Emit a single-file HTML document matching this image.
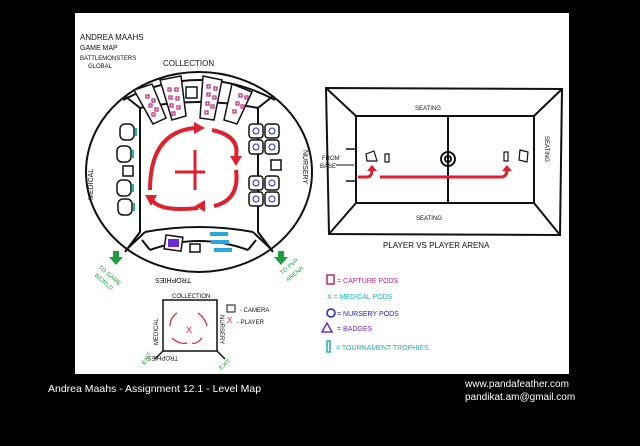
<!DOCTYPE html>
<html><head><meta charset="utf-8"><style>
html,body{margin:0;padding:0;background:#000;width:640px;height:446px;overflow:hidden}
svg{display:block}
text{font-family:"Liberation Sans",sans-serif}
</style></head><body>
<svg width="640" height="446" viewBox="0 0 640 446">
<rect x="0" y="0" width="640" height="446" fill="#000"/>
<rect x="75" y="13" width="494" height="361" fill="#fff"/>
<g font-size="8" fill="#111">
<text x="80" y="40">ANDREA MAAHS</text>
<text x="80" y="50" font-size="7">GAME MAP</text>
<text x="80" y="60" font-size="6">BATTLEMONSTERS</text>
<text x="88" y="68" font-size="6">GLOBAL</text>
<text x="163" y="66" font-size="8">COLLECTION</text>
</g>
<g fill="none" stroke="#111" stroke-width="2">
<ellipse cx="199" cy="172" rx="113" ry="100"/>
<path d="M123 100 Q199 60 275 100"/>
<path d="M125 96 L140 108 L140 232 L125 252"/>
<path d="M273 96 L258 108 L258 232 L273 252"/>
<path d="M140 108 Q199 96 258 108"/>
<path d="M145 232 Q199 222 253 232"/>
<path d="M126 250 L145 232 M272 250 L253 232"/>
<path d="M150 250 Q199 232 248 250 M150 250 L142 240 M248 250 L256 240"/>
</g>
<g stroke="#111" stroke-width="1.5" fill="#fff">
<path d="M134 90 L152 84 L166 118 L153 124 Z"/>
<path d="M160 80 L181 76 L186 116 L172 120 Z"/>
<path d="M203 76 L222 80 L214 120 L200 118 Z"/>
<path d="M232 84 L252 92 L237 124 L224 120 Z"/>
<rect x="186" y="87" width="11" height="11"/>
</g>
<g fill="none" stroke="#c0207a" stroke-width="1.2">
<rect x="146" y="95" width="3" height="3"/><rect x="152" y="99" width="3" height="3"/><rect x="149" y="104" width="3" height="3"/><rect x="155" y="108" width="3" height="3"/><rect x="152" y="113" width="3" height="3"/>
<rect x="168" y="88" width="3" height="3"/><rect x="175" y="88" width="3" height="3"/><rect x="169" y="96" width="3" height="3"/><rect x="176" y="97" width="3" height="3"/><rect x="170" y="104" width="3" height="3"/><rect x="177" y="106" width="3" height="3"/><rect x="172" y="112" width="3" height="3"/>
<rect x="207" y="85" width="3" height="3"/><rect x="214" y="87" width="3" height="3"/><rect x="207" y="93" width="3" height="3"/><rect x="213" y="96" width="3" height="3"/><rect x="206" y="102" width="3" height="3"/><rect x="211" y="105" width="3" height="3"/><rect x="205" y="111" width="3" height="3"/>
<rect x="239" y="94" width="3" height="3"/><rect x="245" y="96" width="3" height="3"/><rect x="236" y="102" width="3" height="3"/><rect x="241" y="105" width="3" height="3"/><rect x="233" y="110" width="3" height="3"/>
</g>
<g stroke="#111" stroke-width="1.5" fill="#fff">
<rect x="120" y="124" width="14" height="16" rx="5"/>
<rect x="117" y="146" width="14" height="16" rx="5"/>
<rect x="123" y="166" width="10" height="10"/>
<rect x="117" y="180" width="14" height="16" rx="5"/>
<rect x="118" y="199" width="14" height="16" rx="5"/>
</g>
<g stroke="#1bb5b0" stroke-width="2"><path d="M136 128v8M133 150v8M133 184v8M134 203v8"/></g>
<g stroke="#111" stroke-width="1.5" fill="#fff">
<rect x="249" y="124" width="14" height="14" rx="3"/><rect x="265" y="124" width="14" height="14" rx="3"/>
<rect x="249" y="140" width="14" height="14" rx="3"/><rect x="265" y="140" width="14" height="14" rx="3"/>
<rect x="271" y="160" width="10" height="10"/>
<rect x="249" y="176" width="14" height="14" rx="3"/><rect x="265" y="176" width="14" height="14" rx="3"/>
<rect x="249" y="192" width="14" height="14" rx="3"/><rect x="265" y="192" width="14" height="14" rx="3"/>
</g>
<g fill="none" stroke="#2222cc" stroke-width="1">
<circle cx="256" cy="131" r="3"/><circle cx="272" cy="131" r="3"/><circle cx="256" cy="147" r="3"/><circle cx="272" cy="147" r="3"/>
<circle cx="256" cy="183" r="3"/><circle cx="272" cy="183" r="3"/><circle cx="256" cy="199" r="3"/><circle cx="272" cy="199" r="3"/>
</g>
<g stroke="#111" stroke-width="1.5" fill="#fff">
<rect x="165" y="236" width="17" height="14" transform="rotate(8 173 243)"/>
<rect x="190" y="244" width="10" height="8"/>
</g>
<g fill="#6a2bd6"><rect x="168" y="239" width="11" height="8"/></g>
<g fill="#27a8e0"><rect x="210" y="232" width="18" height="4"/><rect x="211" y="240" width="18" height="4"/><rect x="214" y="248" width="18" height="4"/></g>
<g fill="none" stroke="#e0202c" stroke-width="4">
<path d="M150 190 Q150 132 195 128"/>
<path d="M212 130 Q240 136 236 156"/>
<path d="M236 170 Q240 200 214 206"/>
<path d="M198 208 Q160 212 152 200"/>
<path d="M175 172 H205 M195 150 V190" stroke-width="3"/>
</g>
<g fill="#e0202c">
<path d="M194 122 L205 128 L194 134Z"/><path d="M230 156 L242 156 L236 166Z"/>
<path d="M205 200 L195 206 L205 212Z"/><path d="M145 195 L157 195 L151 206Z"/>
</g>
<g font-size="7" fill="#111">
<text x="93" y="200" transform="rotate(-90 93 200)">MEDICAL</text>
<text x="303" y="150" transform="rotate(90 303 150)">NURSERY</text>
<text x="225" y="282" transform="rotate(180 208 280)" font-size="7">TROPHIES</text>
</g>
<g fill="#1f9e3c">
<path d="M113 251 l6 0 l0 6 l4 0 l-7 8 l-7 -8 l4 0z"/>
<path d="M278 251 l6 0 l0 6 l4 0 l-7 8 l-7 -8 l4 0z"/>
</g>
<g font-size="6" fill="#1f9e3c">
<text x="98" y="268" transform="rotate(40 98 268)">TO GAME</text>
<text x="94" y="276" transform="rotate(40 94 276)">WORLD</text>
<text x="282" y="275" transform="rotate(-40 282 275)">TO PVP</text>
<text x="288" y="282" transform="rotate(-40 288 282)">ARENA</text>
</g>
<g fill="none" stroke="#111" stroke-width="2">
<path d="M326 88 L562 89 L560 235 L329 234 Z"/>
<rect x="356" y="116" width="178" height="87"/>
<path d="M326 88 L356 116 M562 89 L534 116 M560 235 L534 203 M329 234 L356 203"/>
<path d="M448 116 V203"/>
<circle cx="448" cy="159" r="7"/><circle cx="448" cy="159" r="3"/>
<rect x="385" y="154" width="4" height="8" stroke-width="1.2"/>
<rect x="504" y="152" width="4" height="9" stroke-width="1.2"/>
<path d="M366 154 l8 -3 l3 10 l-10 0z M520 150 l8 2 l-1 10 l-8 -2z" stroke-width="1.2"/>
<path d="M346 149 h10 M346 181 h10" stroke-width="1.5"/>
<path d="M336 165 h18" stroke-width="1"/>
</g>
<g fill="none" stroke="#e0202c" stroke-width="3"><path d="M358 177 H368 Q372 176 372 170 M380 177 H502 Q507 176 507 170"/></g>
<g fill="#e0202c"><path d="M367 171 l5 -6 l5 6z M502 171 l5 -6 l5 6z"/></g>
<g font-size="6" fill="#111">
<text x="415" y="110">SEATING</text>
<text x="416" y="220">SEATING</text>
<text x="545" y="136" transform="rotate(90 545 136)">SEATING</text>
<text x="322" y="160">FROM</text><text x="320" y="168">BASE</text>
<text x="383" y="248" font-size="8">PLAYER  VS  PLAYER  ARENA</text>
</g>
<g font-size="7">
<rect x="327" y="275" width="7" height="9" fill="none" stroke="#c0207a" stroke-width="1.5"/>
<text x="337" y="283" fill="#c0207a">= CAPTURE PODS</text>
<text x="327" y="299" fill="#1bb5b0">X = MEDICAL PODS</text>
<circle cx="331" cy="313" r="4" fill="none" stroke="#2222cc" stroke-width="1.5"/>
<text x="337" y="316" fill="#2222cc">= NURSERY PODS</text>
<path d="M322 332 l5 -9 l5 9z" fill="none" stroke="#6a2bd6" stroke-width="1.5"/>
<text x="337" y="331" fill="#6a2bd6">= BADGES</text>
<rect x="327" y="341" width="3" height="11" fill="none" stroke="#1bb5b0" stroke-width="1.5"/>
<text x="336" y="350" fill="#1bb5b0">= TOURNAMENT TROPHIES</text>
</g>
<g fill="none" stroke="#111" stroke-width="1.5">
<rect x="163" y="300" width="54" height="51"/>
<path d="M163 351 l-8 8 M217 351 l8 8"/>
<rect x="227" y="305" width="8" height="7" stroke-width="1"/>
</g>
<g fill="none" stroke="#e0202c" stroke-width="1.2"><path d="M177 313 Q170 318 170 326 M198 313 Q205 318 207 326 M172 338 Q180 345 187 343 M202 338 Q196 345 192 343"/></g>
<text x="186" y="333" font-size="9" fill="#e0202c">X</text>
<g font-size="6" fill="#111">
<text x="172" y="298">COLLECTION</text>
<text x="240" y="312">- CAMERA</text>
<text x="237" y="324">- PLAYER</text>
<text x="158" y="345" transform="rotate(-90 158 345)">MEDICAL</text>
<text x="220" y="315" transform="rotate(90 220 315)">NURSERY</text>
<text x="202" y="354" transform="rotate(180 190 355)">TROPHIES</text>
</g>
<text x="227" y="323" font-size="8" fill="#e0202c">X</text>
<g font-size="6" fill="#1f9e3c"><text x="145" y="365" transform="rotate(-60 145 365)">EXIT</text><text x="221" y="370" transform="rotate(-40 221 370)">EXIT</text></g>
<g fill="#fff" font-size="10.5">
<text x="48" y="392">Andrea Maahs - Assignment 12.1 - Level Map</text>
<text x="465" y="387" font-size="10">www.pandafeather.com</text>
<text x="465" y="400" font-size="10">pandikat.am@gmail.com</text>
</g>
</svg>
</body></html>
